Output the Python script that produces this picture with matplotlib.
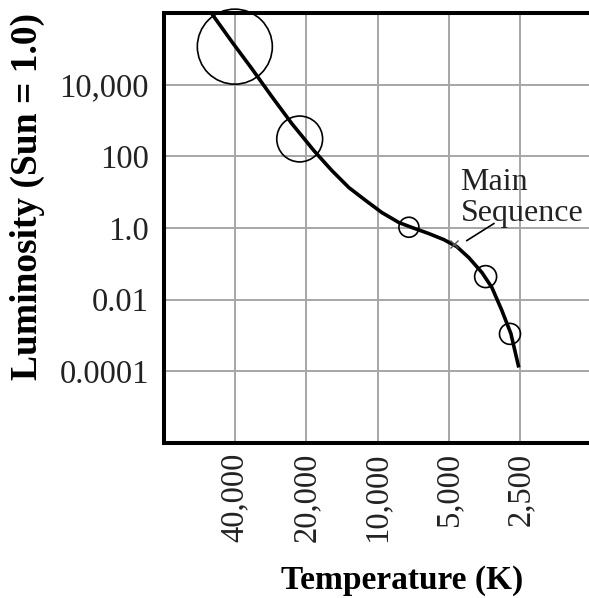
import matplotlib
matplotlib.use('Agg')
import matplotlib.pyplot as plt
from matplotlib.ticker import FixedLocator, FixedFormatter, NullLocator

# ---- data ----
temperature_ticks = [40000, 20000, 10000, 5000, 2500]
temperature_labels = ['40,000', '20,000', '10,000', '5,000', '2,500']
luminosity_ticks = [1e4, 1e2, 1.0, 1e-2, 1e-4]
luminosity_labels = ['10,000', '100', '1.0', '0.01', '0.0001']

curve_temp = [50030, 41180, 33900, 27910, 22980, 18550, 15570, 13200, 11200,
              9580, 8120, 7150, 6070, 5250, 4630, 4117, 3624, 3290, 2986, 2736, 2533]
curve_lum = [9.55e5, 1.58e5, 2.79e4, 4.63e3, 817, 144, 39.9, 13.4, 5.81,
             2.69, 1.42, 1.03, 0.698, 0.474, 0.303, 0.149, 0.057, 0.0218,
             0.00497, 0.00113, 1.28e-4]

star_temp = [40000, 21300, 7370, 3497, 2760]
star_lum = [1.15e5, 305, 1.05, 0.044, 0.00111]
star_size = [2916, 1090, 207, 250, 228]

label_point_temp = 4775
label_point_lum = 0.36
leader_temp = [4197, 3228]
leader_lum = [0.446, 1.33]
label_text = 'Main\nSequence'
label_temp = 4459
label_lum = 48.4

SERIF = ['Liberation Serif', 'DejaVu Serif']

fig = plt.figure(figsize=(5.89, 5.98), dpi=100)
ax = fig.add_axes([163.5 / 589, (598 - 443) / 598, 428 / 589, 430 / 598])

ax.set_xscale('log')
ax.set_yscale('log')
ax.set_xlim(80000, 1250)
ax.set_ylim(1e-6, 1e6)

ax.xaxis.set_major_locator(FixedLocator(temperature_ticks))
ax.xaxis.set_major_formatter(FixedFormatter(temperature_labels))
ax.xaxis.set_minor_locator(NullLocator())
ax.yaxis.set_major_locator(FixedLocator(luminosity_ticks))
ax.yaxis.set_major_formatter(FixedFormatter(luminosity_labels))
ax.yaxis.set_minor_locator(NullLocator())

ax.grid(True, color='#a6a6a6', linewidth=1.4)
ax.set_axisbelow(True)

for s in ['left', 'top', 'bottom']:
    ax.spines[s].set_linewidth(2.9)
    ax.spines[s].set_color('black')
ax.spines['right'].set_visible(False)

ax.tick_params(axis='both', length=0)
ax.tick_params(axis='y', pad=10.5, labelsize=23.5, labelcolor='#222222')
ax.tick_params(axis='x', pad=7, labelsize=23.5, labelcolor='#222222', labelrotation=90)
for lab in ax.get_xticklabels() + ax.get_yticklabels():
    lab.set_family(SERIF)
for lab in ax.get_xticklabels():
    lab.set_verticalalignment('top')

ax.plot(curve_temp, curve_lum, color='black', linewidth=2.6,
        solid_joinstyle='round', solid_capstyle='butt', zorder=3)
ax.scatter(star_temp, star_lum, s=star_size, facecolors='none', edgecolors='black',
           linewidths=1.2, zorder=4, clip_on=False)

ax.plot([label_point_temp], [label_point_lum], marker='x', markersize=6,
        markeredgewidth=1.0, color='#555555', zorder=5)
ax.plot(leader_temp, leader_lum, color='black', linewidth=1.2, zorder=5)
ax.text(label_temp, label_lum, label_text, family=SERIF, fontsize=23, color='#222222',
        ha='left', va='top', linespacing=1.12, zorder=6)

fig.text(27.5 / 589, 1 - 197 / 598, 'Luminosity (Sun = 1.0)', rotation=90,
         family=SERIF, fontweight='bold', fontsize=27, ha='center', va='center')
fig.text(402 / 589, 1 - 580 / 598, 'Temperature (K)', family=SERIF,
         fontweight='bold', fontsize=24, ha='center', va='center')

fig.savefig('out.png', dpi=100)
